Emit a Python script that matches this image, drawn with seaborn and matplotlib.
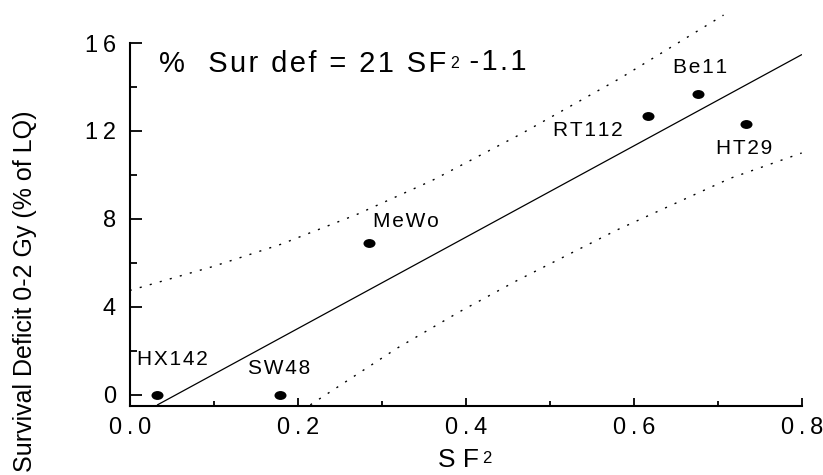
import numpy as np
import seaborn as sns
import matplotlib.pyplot as plt
from matplotlib.path import Path
from matplotlib.ticker import MultipleLocator

# cell lines: SF2 vs survival deficit 0-2 Gy
cell_lines = ['HX142', 'SW48', 'MeWo', 'RT112', 'Be11', 'HT29']
sf2 = [0.033, 0.179, 0.285, 0.617, 0.677, 0.734]
deficit = [0.0, 0.0, 6.9, 12.7, 13.7, 12.3]

# dotted confidence band
upper_x = [0.0, 0.10, 0.18, 0.27, 0.36, 0.465, 0.584, 0.707]
upper_y = [4.75, 5.85, 6.85, 8.2, 9.75, 11.85, 14.4, 17.27]
lower_x = [0.215, 0.318, 0.393, 0.461, 0.58, 0.715, 0.8]
lower_y = [-0.45, 2.12, 3.79, 5.2, 7.5, 9.85, 11.0]

x_ticks = [0.0, 0.2, 0.4, 0.6, 0.8]
y_ticks = [0, 4, 8, 12, 16]

# label offsets from each point (points)
label_dx = [-14.8, -22.8, 2.9, -68.4, -18.4, -22.1]
label_dy = [21.6, 15.1, 12.0, -14.6, 15.1, -21.3]

THIN = '\u2009'
HAIR = '\u200a'


def spaced(s, gap=THIN):
    return gap.join(s)


sns.set_theme(style='ticks', rc={'axes.edgecolor': 'black', 'xtick.color': 'black',
                                 'ytick.color': 'black', 'text.color': 'black'})
plt.rcParams['font.family'] = ['Liberation Sans', 'DejaVu Sans']

fig = plt.figure(figsize=(8.23, 4.75), dpi=100)
ax = fig.add_axes([0.1576, 0.1453, 0.8165, 0.829])

# points as flat ellipses
circ = Path.unit_circle()
ellipse = Path(circ.vertices * [1.35, 1.0], circ.codes)
sns.scatterplot(x=sf2, y=deficit, marker=ellipse, s=75, color='black',
                linewidth=0, ax=ax, zorder=3)

# regression line
slope, icpt = np.polyfit(sf2, deficit, 1)
fit_x = np.array([min(sf2), 0.8])
ax.plot(fit_x, slope * fit_x + icpt, color='black', lw=0.9)

ax.plot(upper_x, upper_y, color='black', lw=1.0, ls=(0, (1.5, 6)), clip_on=False)
ax.plot(lower_x, lower_y, color='black', lw=1.0, ls=(0, (1.5, 6)))

for name, x, y, dx, dy in zip(cell_lines, sf2, deficit, label_dx, label_dy):
    ax.annotate(spaced(name, HAIR), (x, y), xytext=(dx, dy), textcoords='offset points',
                ha='left', va='baseline', fontsize=15)

ax.set_xlim(0, 0.8)
ax.set_ylim(-0.5, 17.4)
ax.set_xticks(x_ticks, labels=[spaced(f'{v:.1f}') for v in x_ticks])
ax.set_yticks(y_ticks, labels=[spaced(str(v)) for v in y_ticks])
ax.xaxis.set_minor_locator(MultipleLocator(0.1))
ax.yaxis.set_minor_locator(MultipleLocator(2))
ax.tick_params(axis='x', which='major', direction='in', length=6, width=1.3, pad=8, labelsize=17)
ax.tick_params(axis='x', which='minor', direction='in', length=3.5, width=1.3)
ax.tick_params(axis='y', which='major', direction='in', length=8.5, width=1.3, pad=10, labelsize=17)
ax.tick_params(axis='y', which='minor', direction='in', length=5, width=1.3)
sns.despine(ax=ax)
ax.spines['left'].set_bounds(-0.5, 16)
for side in ['left', 'bottom']:
    ax.spines[side].set_linewidth(1.5)

# equation
t1 = ax.text(0.035, 14.7, spaced('%  Sur def = 21 SF', HAIR), fontsize=21,
             ha='left', va='baseline')
t2 = ax.annotate('2', xy=(1, 0), xycoords=t1, xytext=(2.5, 4.5), textcoords='offset points',
                 fontsize=11.5, ha='left', va='bottom')
ax.annotate(spaced(' -1.1', HAIR), xy=(1, 0), xycoords=t2, xytext=(0, -3),
            textcoords='offset points', fontsize=21, ha='left', va='bottom')

# axis labels
xl = ax.text(0.459, -0.155, 'S F', transform=ax.transAxes, fontsize=19,
             ha='left', va='baseline')
ax.annotate('2', xy=(1, 0), xycoords=xl, xytext=(2, 4), textcoords='offset points',
            fontsize=12, ha='left', va='bottom')
fig.text(0.030, 0.768, 'Survival Deficit 0-2 Gy (% of LQ)', rotation=90,
         ha='center', va='top', fontsize=18)

fig.savefig('out.png', dpi=100)
